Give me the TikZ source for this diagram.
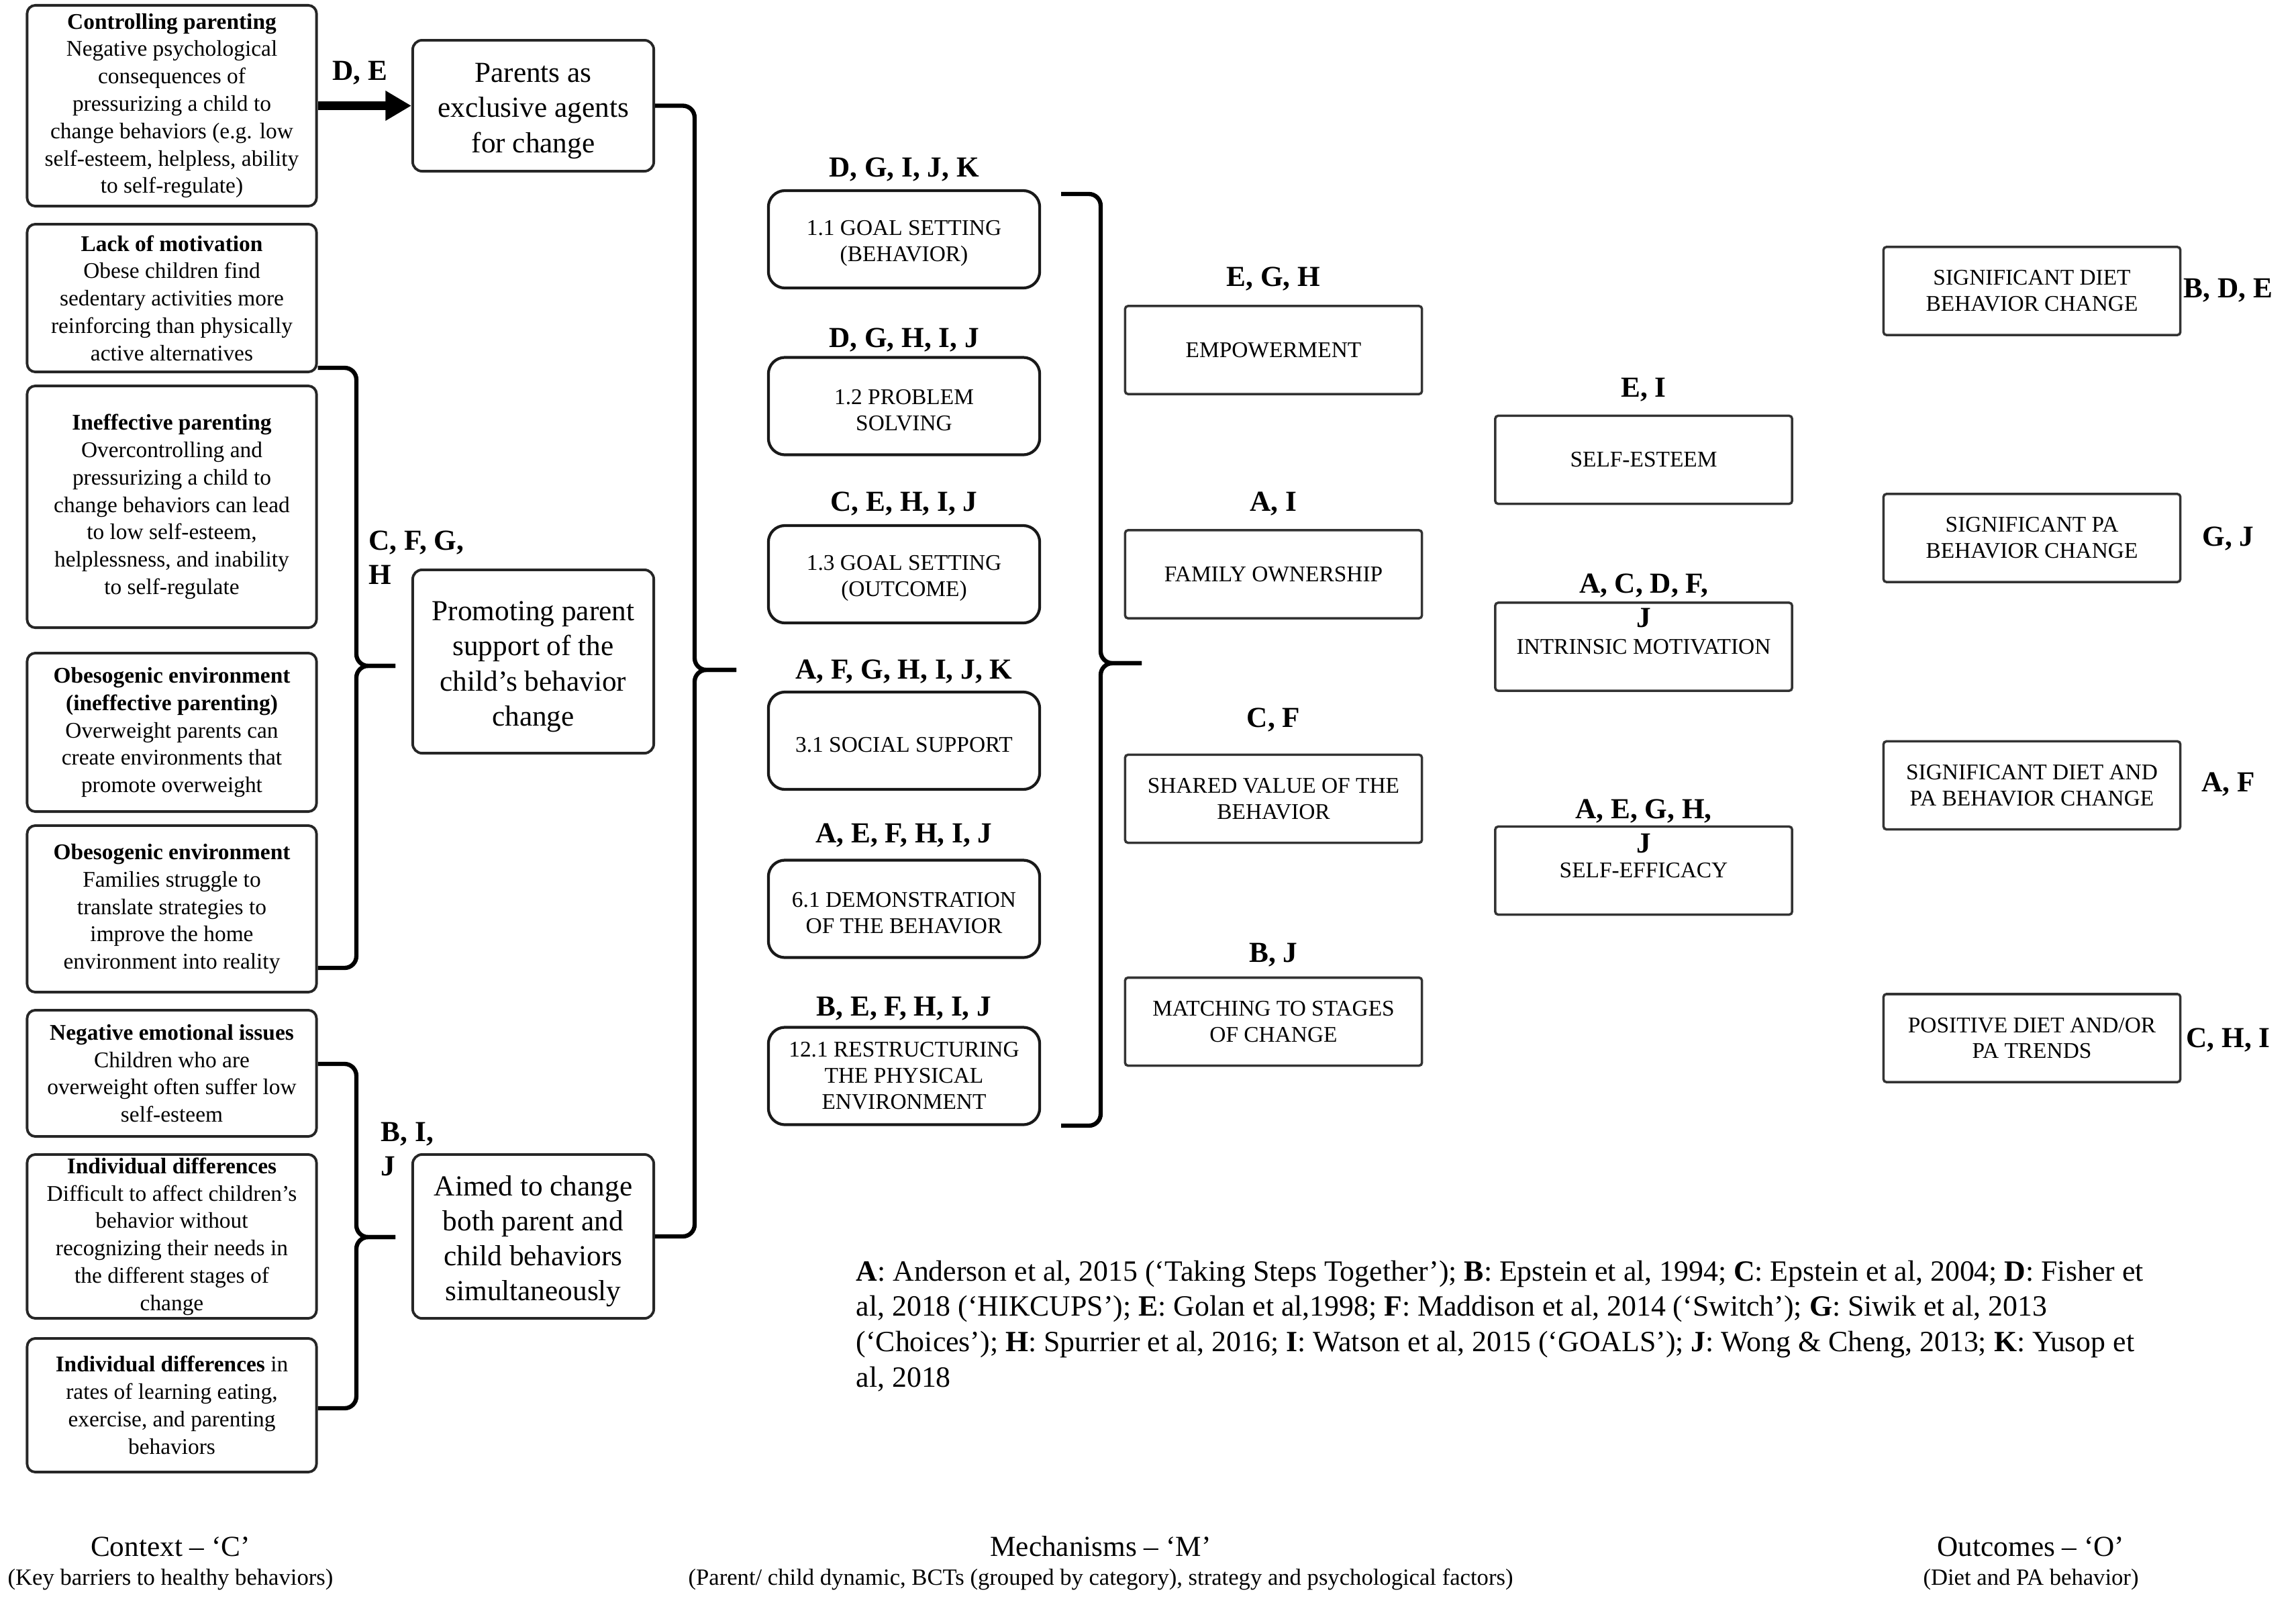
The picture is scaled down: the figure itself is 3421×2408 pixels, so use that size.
\documentclass[tikz,border=0pt]{standalone}
\usepackage{fontspec}
\setmainfont{Liberation Serif}
\usetikzlibrary{arrows.meta}

\newcommand{\midgap}{\rule{0pt}{12.6pt}}
\newcommand{\bctgap}{\rule{0pt}{9.8pt}}

\tikzset{
  ctxbox/.style={draw=black!85, line width=1.1pt, rounded corners=3.5pt, minimum width=4.31cm, align=center, inner xsep=2pt, inner ysep=0pt, font=\fontsize{9.5}{11.6}\selectfont},
  midbox/.style={draw=black!85, line width=1.1pt, rounded corners=4pt, minimum width=3.59cm, align=center, inner ysep=0pt, font=\fontsize{12.3}{14.8}\selectfont},
  bctbox/.style={draw=black!90, line width=1.2pt, rounded corners=7pt, minimum width=4.04cm, minimum height=1.45cm, align=center, inner ysep=0pt, font=\fontsize{9.5}{11.1}\selectfont},
  factbox/.style={draw=black!80, line width=1pt, rounded corners=1.2pt, minimum width=4.42cm, minimum height=1.31cm, align=center, inner ysep=0pt, font=\fontsize{9.5}{11}\selectfont},
  refs/.style={font=\bfseries\fontsize{12.3}{14.5}\selectfont, inner sep=0pt, align=center},
  brace/.style={line width=1.8pt, rounded corners=5pt},
  colhead/.style={font=\fontsize{12.3}{14}\selectfont, inner sep=0pt},
  colsub/.style={font=\fontsize{9.85}{12}\selectfont, inner sep=0pt}
}

\begin{document}
\begin{tikzpicture}[x=0.01cm, y=-0.01cm]
\useasboundingbox (0,0) rectangle (3421,2408);

\node[ctxbox, minimum height=2.99cm] (ctrl) at (256,157.5) {\textbf{Controlling parenting}\\Negative psychological\\consequences of\\pressurizing a child to\\change behaviors (e.g. low\\self-esteem, helpless, ability\\to self-regulate)};
\node[ctxbox, minimum height=2.20cm] (lack) at (256,444) {\textbf{Lack of motivation}\\Obese children find\\sedentary activities more\\reinforcing than physically\\active alternatives};
\node[ctxbox, minimum height=3.60cm] (ineff) at (256,755) {\textbf{Ineffective parenting}\\Overcontrolling and\\pressurizing a child to\\change behaviors can lead\\to low self-esteem,\\helplessness, and inability\\to self-regulate};
\node[ctxbox, minimum height=2.36cm] (obes1) at (256,1091) {\textbf{Obesogenic environment}\\\textbf{(ineffective parenting)}\\Overweight parents can\\create environments that\\promote overweight};
\node[ctxbox, minimum height=2.48cm] (obes2) at (256,1354) {\textbf{Obesogenic environment}\\Families struggle to\\translate strategies to\\improve the home\\environment into reality};
\node[ctxbox, minimum height=1.88cm] (negem) at (256,1599) {\textbf{Negative emotional issues}\\Children who are\\overweight often suffer low\\self-esteem};
\node[ctxbox, minimum height=2.44cm] (ind1) at (256,1842) {\textbf{Individual differences}\\Difficult to affect children's\\behavior without\\recognizing their needs in\\the different stages of\\change};
\node[ctxbox, minimum height=1.99cm] (ind2) at (256,2093.5) {\textbf{Individual differences} in\\rates of learning eating,\\exercise, and parenting\\behaviors};

\node[midbox, minimum height=1.95cm] (parents) at (794.5,157.5) {\midgap Parents as\\exclusive agents\\for change};
\node[midbox, minimum height=2.73cm] (promo) at (794.5,985.5) {\midgap Promoting parent\\support of the\\child's behavior\\change};
\node[midbox, minimum height=2.44cm] (aimed) at (794.5,1842) {\midgap Aimed to change\\both parent and\\child behaviors\\simultaneously};

\draw[-{Triangle[length=11pt,width=12pt]}, line width=3.5pt] (ctrl.east) -- (parents.west);
\node[refs] (deref) at (536,109) {D, E};
\node[refs, align=left, anchor=west] (cfgh) at (549,831) {C, F, G,\\H};
\node[refs, align=left, anchor=west] (bij) at (567,1712) {B, I,\\J};

\coordinate (tipA) at (589,992);
\draw[brace] ([yshift=0.08cm]lack.south east) -| ([xshift=-0.58cm]tipA) -- (tipA);
\draw[brace] ([yshift=0.38cm]obes2.south east) -| ([xshift=-0.58cm]tipA) -- (tipA);
\coordinate (tipB) at (589,1843);
\draw[brace] ([yshift=0.14cm]negem.east) -| ([xshift=-0.58cm]tipB) -- (tipB);
\draw[brace] ([yshift=-0.045cm]ind2.east) -| ([xshift=-0.58cm]tipB) -- (tipB);
\coordinate (tipC) at (1097,998);
\draw[brace] (parents.east) -| ([xshift=-0.62cm]tipC) -- (tipC);
\draw[brace] (aimed.east) -| ([xshift=-0.62cm]tipC) -- (tipC);

\node[bctbox] (b11) at (1347,356.5) {\bctgap 1.1 GOAL SETTING\\(BEHAVIOR)};
\node[bctbox] (b12) at (1347,605) {\bctgap 1.2 PROBLEM\\SOLVING};
\node[bctbox] (b13) at (1347,855.5) {\bctgap 1.3 GOAL SETTING\\(OUTCOME)};
\node[bctbox] (b31) at (1347,1103.5) {\bctgap 3.1 SOCIAL SUPPORT};
\node[bctbox] (b61) at (1347,1354) {\bctgap 6.1 DEMONSTRATION\\OF THE BEHAVIOR};
\node[bctbox] (b121) at (1347,1603) {12.1 RESTRUCTURING\\THE PHYSICAL\\ENVIRONMENT};
\node[refs] (r11) at (1347,253) {D, G, I, J, K};
\node[refs] (r12) at (1347,507) {D, G, H, I, J};
\node[refs] (r13) at (1347,751) {C, E, H, I, J};
\node[refs] (r31) at (1347,1001) {A, F, G, H, I, J, K};
\node[refs] (r61) at (1347,1245) {A, E, F, H, I, J};
\node[refs] (r121) at (1347,1503) {B, E, F, H, I, J};

\coordinate (bctTop) at (1581,289);
\coordinate (bctBot) at (1581,1677);
\coordinate (tipD) at (1701,988);
\draw[brace] (bctTop) -| ([xshift=-0.61cm]tipD) -- (tipD);
\draw[brace] (bctBot) -| ([xshift=-0.61cm]tipD) -- (tipD);

\node[factbox] (empow) at (1897.5,521.5) {EMPOWERMENT};
\node[factbox] (famown) at (1897.5,855.5) {FAMILY OWNERSHIP};
\node[factbox] (shared) at (1897.5,1190) {SHARED VALUE OF THE\\BEHAVIOR};
\node[factbox] (match) at (1897.5,1522) {MATCHING TO STAGES\\OF CHANGE};
\node[refs] (rempow) at (1897.5,416) {E, G, H};
\node[refs] (rfamown) at (1897.5,751) {A, I};
\node[refs] (rshared) at (1897.5,1073) {C, F};
\node[refs] (rmatch) at (1897.5,1423) {B, J};

\node[factbox] (esteem) at (2449,685) {SELF-ESTEEM};
\node[factbox] (intrins) at (2449,963.5) {INTRINSIC MOTIVATION};
\node[factbox] (efficacy) at (2449,1297) {SELF-EFFICACY};
\node[refs] (resteem) at (2449,581) {E, I};
\node[refs] (rintrins) at (2449,894.5) {A, C, D, F,\\J};
\node[refs] (refficacy) at (2449,1231) {A, E, G, H,\\J};

\node[factbox] (o1) at (3027.5,433.5) {SIGNIFICANT DIET\\BEHAVIOR CHANGE};
\node[factbox] (o2) at (3027.5,801.5) {SIGNIFICANT PA\\BEHAVIOR CHANGE};
\node[factbox] (o3) at (3027.5,1170) {SIGNIFICANT DIET AND\\PA BEHAVIOR CHANGE};
\node[factbox] (o4) at (3027.5,1546.5) {POSITIVE DIET AND/OR\\PA TRENDS};
\node[refs] (ro1) at (3320,433) {B, D, E};
\node[refs] (ro2) at (3320,803) {G, J};
\node[refs] (ro3) at (3320,1169) {A, F};
\node[refs] (ro4) at (3320,1549) {C, H, I};

\node[anchor=north west, align=left, inner sep=0pt, font=\fontsize{12.45}{15}\selectfont] (legend) at (1275,1877) {\textbf{A}: Anderson et al, 2015 (`Taking Steps Together'); \textbf{B}: Epstein et al, 1994; \textbf{C}: Epstein et al, 2004; \textbf{D}: Fisher et\\al, 2018 (`HIKCUPS'); \textbf{E}: Golan et al,1998; \textbf{F}: Maddison et al, 2014 (`Switch'); \textbf{G}: Siwik et al, 2013\\(`Choices'); \textbf{H}: Spurrier et al, 2016; \textbf{I}: Watson et al, 2015 (`GOALS'); \textbf{J}: Wong \& Cheng, 2013; \textbf{K}: Yusop et\\al, 2018};

\node[colhead] (ctxhead) at (254,2304) {Context -- `C'};
\node[colsub] (ctxsub) at (254,2353) {(Key barriers to healthy behaviors)};
\node[colhead] (mechhead) at (1640,2304) {Mechanisms -- `M'};
\node[colsub] (mechsub) at (1640,2353) {(Parent/ child dynamic, BCTs (grouped by category), strategy and psychological factors)};
\node[colhead] (outhead) at (3026,2304) {Outcomes -- `O'};
\node[colsub] (outsub) at (3026,2353) {(Diet and PA behavior)};
\end{tikzpicture}
\end{document}
